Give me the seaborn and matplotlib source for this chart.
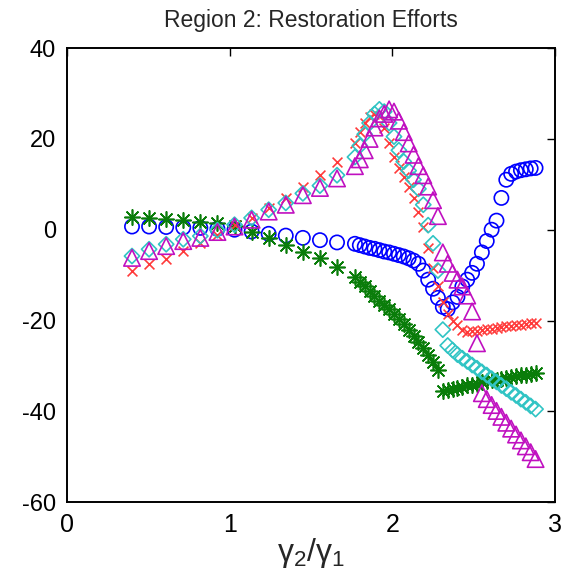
import numpy as np
import pandas as pd
import matplotlib
matplotlib.use("Agg")
import matplotlib.pyplot as plt
import seaborn as sns

# ---------------- data ----------------
x_vals = [0.40, 0.505, 0.61, 0.715, 0.82, 0.925, 1.03, 1.135, 1.24, 1.345, 1.45, 1.555, 1.66,
          1.77, 1.80, 1.83, 1.86, 1.89, 1.92, 1.95, 1.98, 2.01, 2.04,
          2.07, 2.10, 2.13, 2.16, 2.19, 2.22, 2.25, 2.28, 2.31, 2.34,
          2.37, 2.40, 2.43, 2.46, 2.49, 2.52, 2.55, 2.58, 2.61, 2.64,
          2.67, 2.70, 2.73, 2.76, 2.79, 2.82, 2.85, 2.88]

blue_circles = [0.7, 0.7, 0.6, 0.5, 0.4, 0.2, 0.0, -0.4, -0.9, -1.3, -1.8, -2.3, -2.8,
                -3.1, -3.4, -3.7, -4.0, -4.2, -4.5, -4.8, -5.0, -5.3, -5.6,
                -5.9, -6.3, -6.8, -7.5, -9.0, -11.0, -13.0, -15.0, -17.0, -17.5,
                -16.0, -14.8, -12.5, -11.0, -9.5, -7.5, -5.0, -2.5, 0.0, 2.0,
                7.0, 11.0, 12.3, 12.8, 13.1, 13.3, 13.5, 13.6]

green_stars = [2.7, 2.5, 2.4, 2.1, 1.8, 1.4, 0.9, -0.6, -1.8, -3.3, -4.8, -6.3, -8.2,
               -10.5, -11.5, -12.5, -13.6, -14.7, -15.6, -16.5, -17.5, -18.5, -19.6,
               -20.8, -22.1, -23.4, -24.7, -26.0, -27.5, -29.2, -31.0, -35.5, -35.3,
               -35.1, -34.9, -34.6, -34.3, -34.1, -33.9, -33.6, -33.4, -33.2, -33.0,
               -32.8, -32.6, -32.4, -32.2, -32.0, -31.9, -31.7, -31.6]

red_crosses = [-9.0, -7.6, -6.4, -4.7, -2.9, -1.1, 1.0, 2.6, 4.7, 6.9, 9.5, 12.0, 15.0,
               19.0, 21.5, 23.5, 24.8, 25.5, 25.0, 22.5, 19.0, 16.0, 13.5,
               11.5, 9.5, 7.0, 4.0, 0.5, -4.0, -8.4, -12.5, -16.0, -18.6,
               -20.0, -21.0, -22.0, -22.5, -22.4, -22.2, -22.0, -21.9, -21.8, -21.6,
               -21.5, -21.3, -21.2, -21.0, -20.9, -20.7, -20.6, -20.5]

cyan_diamonds = [-5.8, -4.3, -3.2, -2.1, -1.4, -0.1, 1.1, 2.6, 4.4, 5.9, 8.0, 9.7, 12.0,
                 16.0, 18.5, 21.0, 23.5, 25.5, 26.5, 26.0, 23.5, 20.5, 17.5,
                 15.0, 13.0, 11.0, 9.0, 5.5, 1.0, -3.0, -9.0, -22.0, -25.5,
                 -26.5, -27.5, -28.3, -29.0, -29.8, -30.5, -31.3, -32.0, -32.8, -33.5,
                 -34.3, -35.0, -35.8, -36.5, -37.3, -38.0, -38.8, -39.5]

magenta_triangles = [-6.2, -4.7, -3.6, -2.5, -1.8, -0.5, 0.7, 2.2, 4.0, 5.5, 7.6, 9.2, 11.3,
                     14.0, 15.5, 17.5, 20.0, 22.5, 24.5, 25.5, 26.5, 26.0, 24.0,
                     21.5, 19.0, 16.5, 14.0, 12.0, 9.5, 6.5, 3.0, -5.0, -7.5,
                     -9.5, -11.0, -12.5, -14.5, -18.0, -25.0, -36.0, -37.3, -38.6, -39.9,
                     -41.2, -42.5, -43.8, -45.1, -46.4, -47.7, -49.0, -50.5]

title = "Region 2: Restoration Efforts"
x_ticks = [0, 1, 2, 3]
y_ticks = [-60, -40, -20, 0, 20, 40]

# ---------------- style ----------------
sns.set_theme(style="white")
plt.rcParams["font.family"] = ["Liberation Sans", "DejaVu Sans"]
plt.rcParams["mathtext.fontset"] = "custom"
plt.rcParams["mathtext.rm"] = "Liberation Sans"
plt.rcParams["mathtext.it"] = "Liberation Sans"
plt.rcParams["axes.unicode_minus"] = False

fig = plt.figure(figsize=(5.67, 5.86), dpi=100)
ax = fig.add_axes([0.118, 0.143, 0.861, 0.775])

series = [
    (blue_circles, "o", "#0000ff", True, 105),
    (green_stars, (8, 2, 0), "#0a7d0a", False, 120),
    (red_crosses, "x", "#ff3a3a", False, 50),
    (cyan_diamonds, "D", "#30c4c4", True, 60),
    (magenta_triangles, "^", "#c010c0", True, 140),
]

for yv, m, c, hollow, s in series:
    df = pd.DataFrame({"x": x_vals, "y": yv})
    if hollow:
        sns.scatterplot(data=df, x="x", y="y", marker=m, s=s, ax=ax,
                        facecolor="none", edgecolor=c, linewidth=1.2, legend=False)
    else:
        sns.scatterplot(data=df, x="x", y="y", marker=m, s=s, ax=ax,
                        color=c, linewidth=1.2, legend=False)

ax.set_xlim(0, 3)
ax.set_ylim(-60, 40)
ax.set_xticks(x_ticks)
ax.set_yticks(y_ticks)
ax.tick_params(direction="in", length=6, width=1, top=True, right=True,
               labelsize=17, colors="black", pad=8)
ax.tick_params(axis="x", pad=8, labelsize=18)
for sp in ax.spines.values():
    sp.set_color("black")
    sp.set_linewidth(1.4)

ax.set_xlabel(r"$\gamma_2/\gamma_1$", fontsize=23, labelpad=-1)
ax.set_ylabel("")
ax.set_title(title, fontsize=16.5, pad=15)

fig.savefig("out.png", dpi=100, facecolor="white")
